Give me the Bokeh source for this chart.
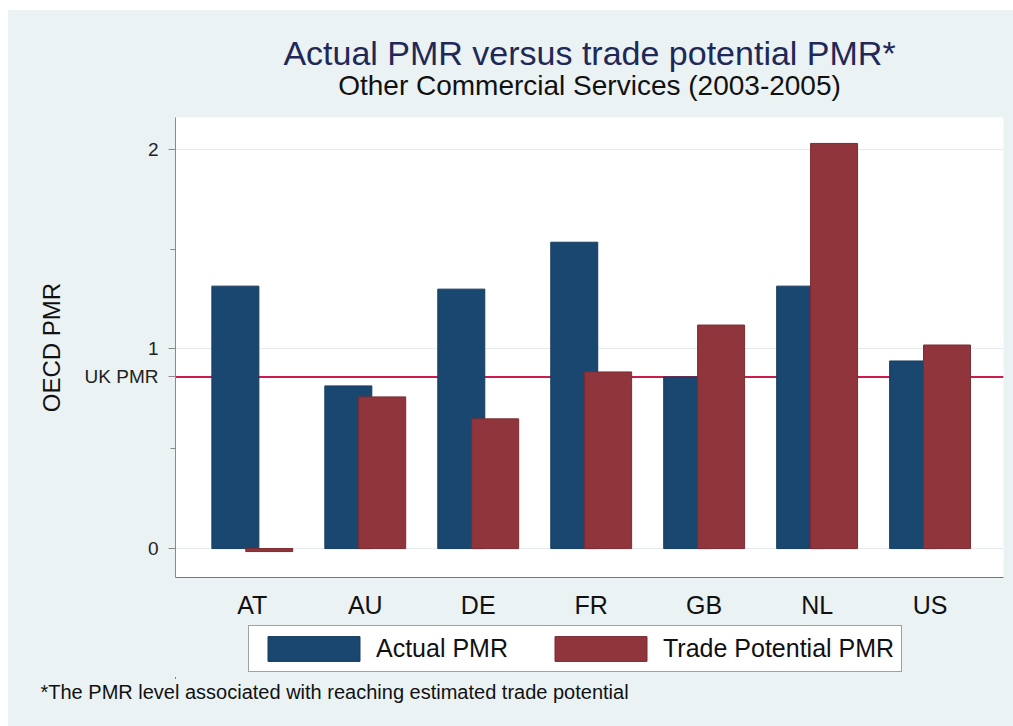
from bokeh.plotting import figure
from bokeh.layouts import column
from bokeh.models import (Range1d, FixedTicker, Span, Legend, LegendItem, Label, Title,
                          ColumnDataSource)
from bokeh.transform import dodge
from bokeh.embed import file_html
from bokeh.resources import INLINE

# ---- data ----
countries = ["AT", "AU", "DE", "FR", "GB", "NL", "US"]
actual_pmr = [1.315, 0.815, 1.30, 1.535, 0.86, 1.315, 0.94]
trade_potential_pmr = [-0.015, 0.76, 0.65, 0.885, 1.12, 2.03, 1.02]
uk_pmr = 0.86
y_ticks = [0, 1, 2]
y_minor_ticks = [0.5, 1.5]

title_text = "Actual PMR versus trade potential PMR*"
subtitle_text = "Other Commercial Services (2003-2005)"
footnote_text = "*The PMR level associated with reaching estimated trade potential"
y_label = "OECD PMR"
series_names = ["Actual PMR", "Trade Potential PMR"]

pos = list(range(len(countries)))
source = ColumnDataSource(dict(pos=pos, actual=actual_pmr, potential=trade_potential_pmr))

FONT = "Liberation Sans"
BG = "#eaf2f3"
BLUE = "#1a476f"
RED = "#90353b"
BLUE_EDGE = "#163c5e"
RED_EDGE = "#7c2c32"
W = 1005
LEFT, RIGHT = 167, 10
FW = W - LEFT - RIGHT


def plain_panel(h, bottom):
    f = figure(width=W, height=h, x_range=Range1d(0, FW), y_range=Range1d(0, h - bottom),
               output_backend="svg", toolbar_location=None,
               x_axis_location=None, y_axis_location=None,
               min_border_left=LEFT, min_border_right=RIGHT,
               min_border_top=0, min_border_bottom=bottom,
               border_fill_color=BG, background_fill_color=None,
               outline_line_color=None)
    f.grid.visible = False
    return f


# ---------------- header: title + subtitle ----------------
head = plain_panel(100, 0)
head.add_layout(Label(x=FW / 2, y=58, x_units="screen", y_units="screen", text=title_text,
                      text_align="center", text_baseline="middle", text_font=FONT,
                      text_font_size="34px", text_color="#1f2857"))
head.add_layout(Label(x=FW / 2, y=25, x_units="screen", y_units="screen", text=subtitle_text,
                      text_align="center", text_baseline="middle", text_font=FONT,
                      text_font_size="28px", text_color="#111111"))

# ---------------- main chart ----------------
p = figure(width=W, height=515,
           x_range=Range1d(-0.68, 6.65), y_range=Range1d(-0.145, 2.16),
           output_backend="svg", toolbar_location=None,
           min_border_left=LEFT, min_border_right=RIGHT,
           min_border_top=7, min_border_bottom=48,
           border_fill_color=BG, background_fill_color="white",
           outline_line_color=None)

p.add_layout(Span(location=uk_pmr, dimension="width", line_color="#cc1c4d",
                  line_width=2, level="underlay"))

p.vbar(x=dodge("pos", -0.15, range=p.x_range), top="actual", width=0.416,
       source=source, fill_color=BLUE, line_color=BLUE_EDGE, line_width=1)
p.vbar(x=dodge("pos", 0.15, range=p.x_range), top="potential", width=0.416,
       source=source, fill_color=RED, line_color=RED_EDGE, line_width=1)

p.xgrid.visible = False
p.ygrid.ticker = FixedTicker(ticks=y_ticks)
p.ygrid.grid_line_color = "#e6eaec"
p.ygrid.grid_line_width = 1

yax = p.yaxis[0]
yax.ticker = FixedTicker(ticks=y_ticks + [uk_pmr], minor_ticks=y_minor_ticks)
overrides = {t: str(t) for t in y_ticks}
overrides[uk_pmr] = "UK PMR"
yax.major_label_overrides = overrides
yax.axis_line_color = "#8a8a8a"
yax.major_tick_line_color = "#8a8a8a"
yax.minor_tick_line_color = "#8a8a8a"
yax.major_tick_out = 7
yax.major_tick_in = 0
yax.minor_tick_out = 5
yax.minor_tick_in = 0
yax.major_label_text_font = FONT
yax.major_label_text_font_size = "19px"
yax.major_label_text_color = "#222222"
yax.major_label_standoff = 10
yax.axis_label = y_label
yax.axis_label_text_font = FONT
yax.axis_label_text_font_size = "24px"
yax.axis_label_text_font_style = "normal"
yax.axis_label_text_color = "#111111"
yax.axis_label_standoff = 17

xax = p.xaxis[0]
xax.ticker = FixedTicker(ticks=pos)
xax.major_label_overrides = {i: c for i, c in zip(pos, countries)}
xax.axis_line_color = "#777777"
xax.major_tick_line_color = None
xax.minor_tick_line_color = None
xax.major_tick_out = 0
xax.major_tick_in = 0
xax.major_label_text_font = FONT
xax.major_label_text_font_size = "25px"
xax.major_label_text_color = "#111111"
xax.major_label_standoff = 13

# ---------------- footer: legend + footnote ----------------
foot = plain_panel(101, 48)
k1 = foot.vbar(x=[-100], top=[1], width=1, fill_color=BLUE, line_color=BLUE_EDGE)
k2 = foot.vbar(x=[-100], top=[1], width=1, fill_color=RED, line_color=RED_EDGE)
legend = Legend(items=[LegendItem(label=series_names[0], renderers=[k1]),
                       LegendItem(label=series_names[1], renderers=[k2])],
                location=(73, 6), orientation="horizontal",
                glyph_width=115, glyph_height=31, label_standoff=5, spacing=35,
                padding=7, margin=0, border_line_color="#444444", border_line_width=1,
                background_fill_color="white", background_fill_alpha=1.0,
                label_text_font=FONT, label_text_font_size="25px",
                label_text_color="#111111", label_height=26)
foot.add_layout(legend)
foot.add_layout(Title(text=footnote_text, align="left", offset=-135, text_font=FONT,
                      text_font_size="20px", text_font_style="normal",
                      text_color="#111111", standoff=0), "below")

layout = column(head, p, foot, spacing=0, margin=(10, 0, 0, 8),
                styles={"background-color": BG})
open("out.html", "w").write(file_html(layout, INLINE))
